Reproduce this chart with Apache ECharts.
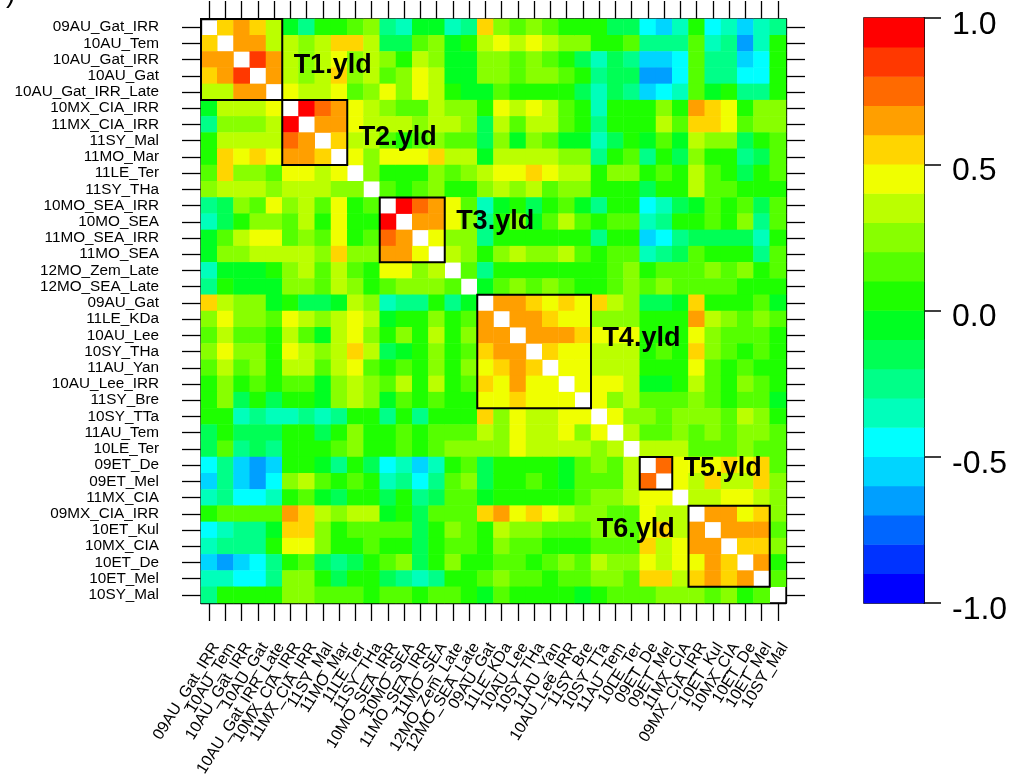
<!DOCTYPE html>
<html><head><meta charset="utf-8">
<script src="https://cdn.jsdelivr.net/npm/echarts@6/dist/echarts.min.js"></script>
<style>html,body{margin:0;padding:0;background:#fff}#chart{width:1017px;height:782px}</style>
</head><body><div id="chart"></div>
<script>
// ---------------- data ----------------
const varNames = ['09AU_Gat_IRR','10AU_Tem','10AU_Gat_IRR','10AU_Gat','10AU_Gat_IRR_Late',
 '10MX_CIA_IRR','11MX_CIA_IRR','11SY_Mal','11MO_Mar','11LE_Ter','11SY_THa',
 '10MO_SEA_IRR','10MO_SEA','11MO_SEA_IRR','11MO_SEA','12MO_Zem_Late','12MO_SEA_Late',
 '09AU_Gat','11LE_KDa','10AU_Lee','10SY_THa','11AU_Yan','10AU_Lee_IRR','11SY_Bre',
 '10SY_TTa','11AU_Tem','10LE_Ter','09ET_De','09ET_Mel','11MX_CIA',
 '09MX_CIA_IRR','10ET_Kul','10MX_CIA','10ET_De','10ET_Mel','10SY_Mal'];

// lower triangle of the correlation matrix (row i, columns 0..i-1); diagonal is blank
const corrLower = [
 [],
 [0.55],
 [0.65,0.65],
 [0.55,0.65,0.85],
 [0.35,0.35,0.65,0.65],
 [-0.05,0.35,0.35,0.35,0.45],
 [-0.25,0.25,0.25,0.25,0.35,0.95],
 [0.05,0.35,0.35,0.35,0.35,0.75,0.65],
 [0.05,0.55,0.45,0.55,0.45,0.65,0.65,0.55],
 [0.15,0.55,0.25,0.25,0.15,0.45,0.45,0.35,0.45],
 [0.25,0.35,0.35,0.35,0.25,0.35,0.35,0.35,0.25,0.25],
 [-0.25,-0.15,0.25,0.15,0.45,0.25,0.35,0.15,0.45,0.05,0.15],
 [-0.35,-0.15,0.05,0.25,0.25,0.15,0.35,0.05,0.45,0.05,0.05,0.95],
 [-0.05,0.15,0.35,0.45,0.45,0.15,0.25,0.15,0.45,0.05,0.15,0.75,0.65],
 [-0.05,0.25,0.25,0.35,0.35,0.35,0.35,0.25,0.55,0.25,0.25,0.65,0.65,0.45],
 [-0.35,-0.05,-0.05,-0.05,0.05,0.25,0.35,0.15,0.35,0.15,0.05,0.45,0.45,0.25,0.35],
 [-0.25,0.05,-0.05,-0.05,-0.05,0.25,0.25,0.15,0.35,0.25,0.05,0.15,0.25,0.25,0.25,0.15],
 [0.55,0.35,0.25,0.25,-0.05,0.05,-0.15,-0.15,-0.05,0.35,0.25,-0.35,-0.25,-0.25,0.05,-0.25,-0.05],
 [0.25,0.45,0.25,0.25,0.15,0.45,0.35,0.25,0.35,0.45,0.35,-0.05,0.05,0.05,0.25,0.05,0.15,0.65],
 [0.15,0.35,0.15,0.15,0.05,0.35,0.15,-0.05,0.35,0.45,0.25,0.05,0.25,0.05,0.35,0.05,0.25,0.65,0.65],
 [0.25,0.45,0.25,0.25,0.05,0.45,0.35,0.25,0.35,0.55,0.35,-0.15,-0.05,0.05,0.25,0.05,0.15,0.55,0.65,0.65],
 [0.15,0.35,0.15,0.25,0.05,0.35,0.35,0.15,0.35,0.45,0.15,0.05,0.15,0.05,0.25,0.05,0.25,0.45,0.55,0.65,0.55],
 [0.05,0.25,0.05,0.15,0.05,0.15,0.15,-0.05,0.25,0.35,0.25,0.15,0.35,0.05,0.35,0.05,0.15,0.55,0.45,0.65,0.45,0.45],
 [0.05,0.25,-0.15,0.05,-0.15,0.05,0.05,-0.05,0.25,0.35,0.25,-0.05,0.15,0.05,0.15,0.05,0.05,0.45,0.45,0.55,0.45,0.45,0.45],
 [0.05,0.05,-0.35,-0.25,-0.35,-0.35,-0.25,-0.35,-0.25,0.05,0.05,-0.25,0.05,-0.25,0.05,0.05,0.05,0.55,0.25,0.45,0.35,0.35,0.45,0.45],
 [-0.15,0.05,-0.15,-0.15,-0.15,0.05,0.05,-0.15,0.05,0.25,0.05,0.05,0.15,0.05,0.15,0.15,0.15,0.35,0.25,0.45,0.35,0.35,0.45,0.25,0.45],
 [-0.15,0.15,-0.25,-0.15,-0.25,0.05,0.05,0.05,0.15,0.25,0.05,0.05,0.15,0.05,0.15,0.25,0.25,0.25,0.25,0.45,0.35,0.35,0.35,0.35,0.25,0.35],
 [-0.45,-0.25,-0.55,-0.65,-0.55,0.05,0.05,-0.05,-0.25,0.05,-0.15,-0.45,-0.35,-0.55,-0.35,0.05,0.15,-0.15,0.05,0.05,0.05,0.05,-0.05,0.15,0.25,0.15,0.35],
 [-0.55,-0.25,-0.55,-0.65,-0.45,0.25,0.35,0.15,0.05,0.15,0.05,-0.35,-0.25,-0.45,-0.25,0.15,0.25,-0.15,0.05,0.05,0.15,0.05,-0.05,0.15,0.15,0.15,0.35,0.75],
 [-0.35,-0.25,-0.45,-0.45,-0.35,0.05,0.15,-0.05,-0.15,0.05,0.05,-0.15,0.05,-0.25,-0.15,0.15,0.15,-0.05,0.05,0.05,0.05,0.05,0.05,0.15,0.25,0.25,0.35,0.45,0.45],
 [0.05,0.15,0.15,0.15,0.15,0.65,0.55,0.35,0.25,0.35,0.35,-0.05,0.05,-0.15,0.15,0.15,0.15,0.55,0.65,0.45,0.55,0.45,0.35,0.25,0.25,0.15,0.15,0.45,0.35,0.35],
 [-0.45,-0.35,-0.25,-0.25,-0.05,0.55,0.55,0.25,0.05,0.15,0.15,0.15,0.15,-0.15,0.05,0.25,0.15,0.05,0.35,0.25,0.25,0.15,0.15,0.15,0.25,0.25,0.15,0.45,0.55,0.35,0.65],
 [-0.35,-0.25,-0.25,-0.25,0.05,0.45,0.45,0.25,0.05,0.05,0.15,0.05,0.05,-0.15,0.05,0.15,0.15,0.05,0.25,0.15,0.15,0.05,0.05,0.05,0.15,0.15,0.15,0.55,0.35,0.45,0.65,0.65],
 [-0.55,-0.65,-0.55,-0.45,-0.25,0.05,0.15,-0.15,-0.25,-0.15,0.05,0.15,0.25,-0.15,0.05,0.25,0.05,0.05,0.15,0.15,0.05,0.15,0.25,0.15,0.35,0.25,0.25,0.45,0.35,0.45,0.45,0.65,0.55],
 [-0.35,-0.35,-0.45,-0.45,-0.25,0.25,0.25,0.05,-0.15,0.05,0.05,-0.15,-0.25,-0.35,-0.25,0.05,0.05,0.15,0.25,0.15,0.15,0.05,0.15,0.15,0.25,0.25,0.15,0.55,0.55,0.35,0.55,0.65,0.55,0.65],
 [-0.25,0.05,0.05,0.05,0.05,0.25,0.25,0.15,0.15,0.15,0.05,0.15,0.15,0.05,0.15,0.15,0.05,-0.05,0.15,0.05,0.05,0.05,0.05,-0.05,0.05,0.15,0.15,0.15,0.25,0.25,0.25,0.15,0.25,0.05,0.15]
];

const blockNames = ['T1.yld','T2.yld','T3.yld','T4.yld','T5.yld','T6.yld'];
const blockStart = [0,5,11,17,27,30];
const blockEnd   = [4,8,14,23,28,34];

const colorBreaks = [-1.0,-0.9,-0.8,-0.7,-0.6,-0.5,-0.4,-0.3,-0.2,-0.1,0.0,0.1,0.2,0.3,0.4,0.5,0.6,0.7,0.8,0.9,1.0];
const colorPalette = ['#0000FF','#0033FF','#0066FF','#009FFF','#00D5FF','#00FFFF','#00FFBB','#00FF88','#00FF55','#00FF22',
                      '#1EFF00','#55FF00','#88FF00','#BBFF00','#F0FF00','#FFD500','#FF9F00','#FF6A00','#FF3800','#FF0000'];
const colorbarMids = [-0.95,-0.85,-0.75,-0.65,-0.55,-0.45,-0.35,-0.25,-0.15,-0.05,0.05,0.15,0.25,0.35,0.45,0.55,0.65,0.75,0.85,0.95];
const colorbarTicks = [-1.0,-0.5,0.0,0.5,1.0];

// ---------------- build ----------------
const heatData = [];
corrLower.forEach((row, i) => {
  row.forEach((v, j) => { heatData.push([j, i, v]); heatData.push([i, j, v]); });
});
const pieces = colorPalette.map((c, k) => k === colorPalette.length - 1
  ? {gte: colorBreaks[k], lte: colorBreaks[k + 1], color: c}
  : {gte: colorBreaks[k], lt: colorBreaks[k + 1], color: c});
const cbData = colorbarMids.map((v, k) => [0, k, v]);
const blockData = blockNames.map((n, k) => [blockStart[k], blockEnd[k], k]);

const FONT = 'Liberation Sans, Arial, sans-serif';
// label layout for the block captions (cell units)
const capSide = ['right','right','right','right','right','left'];
const capDy = [0.4, 0.28, -0.5, -0.83, -0.3, -1.0];

const chart = echarts.init(document.getElementById('chart'), null, {renderer: 'canvas'});
const blackLine = {lineStyle: {color: '#000', width: 1.3}};
chart.setOption({
  animation: false,
  backgroundColor: '#fff',
  textStyle: {fontFamily: FONT},
  graphic: [{type: 'text', left: 6, top: -20, style: {text: ')', font: '28px ' + FONT, fill: '#000'}}],
  grid: [
    {left: 201, top: 19, width: 585, height: 584, show: true, borderColor: '#000', borderWidth: 1.3, backgroundColor: '#fff'},
    {left: 864, top: 18, width: 60, height: 585, show: true, borderColor: '#000', borderWidth: 1.5}
  ],
  xAxis: [
    {type: 'category', gridIndex: 0, data: varNames, position: 'bottom',
     axisLine: {show: true, ...blackLine},
     axisTick: {show: true, alignWithLabel: true, interval: 0, length: 18, inside: false, ...blackLine},
     axisLabel: {interval: 0, rotate: 58, fontSize: 16, color: '#000', margin: 37, verticalAlign: 'top', fontFamily: FONT},
     splitLine: {show: false}},
    {type: 'category', gridIndex: 0, data: varNames, position: 'top',
     axisLine: {show: true, ...blackLine},
     axisTick: {show: true, alignWithLabel: true, interval: 0, length: 18, ...blackLine},
     axisLabel: {show: false}, splitLine: {show: false}},
    {type: 'category', gridIndex: 1, data: ['bar'], show: false}
  ],
  yAxis: [
    {type: 'category', gridIndex: 0, data: varNames, inverse: true, position: 'left',
     axisLine: {show: true, ...blackLine},
     axisTick: {show: true, alignWithLabel: true, interval: 0, length: 19, ...blackLine},
     axisLabel: {interval: 0, fontSize: 15.3, color: '#000', margin: 42, fontFamily: FONT},
     splitLine: {show: false}},
    {type: 'category', gridIndex: 0, data: varNames, inverse: true, position: 'right',
     axisLine: {show: true, ...blackLine},
     axisTick: {show: true, alignWithLabel: true, interval: 0, length: 19, ...blackLine},
     axisLabel: {show: false}, splitLine: {show: false}},
    {type: 'category', gridIndex: 1, data: colorbarMids.map(String), show: false},
    {type: 'value', gridIndex: 1, position: 'right',
     min: colorbarTicks[0], max: colorbarTicks[colorbarTicks.length - 1], interval: colorbarTicks[1] - colorbarTicks[0],
     axisLine: {show: true, lineStyle: {color: '#000', width: 1.5}},
     axisTick: {show: true, length: 17, lineStyle: {color: '#000', width: 1.5}},
     axisLabel: {fontSize: 32, color: '#000', margin: 28, fontFamily: FONT, verticalAlign: 'top', lineHeight: 14,
                 formatter: v => v.toFixed(1)},
     splitLine: {show: false}}
  ],
  visualMap: {type: 'piecewise', show: false, seriesIndex: [0, 1], dimension: 2, pieces: pieces},
  series: [
    {type: 'heatmap', xAxisIndex: 0, yAxisIndex: 0, data: heatData, progressive: 0,
     itemStyle: {borderWidth: 0}, emphasis: {disabled: true}},
    {type: 'heatmap', xAxisIndex: 2, yAxisIndex: 2, data: cbData, progressive: 0, emphasis: {disabled: true}},
    {type: 'custom', xAxisIndex: 0, yAxisIndex: 0, data: blockData, z: 10,
     encode: {x: 0, y: 1},
     renderItem: (params, api) => {
       const s = api.value(0), e = api.value(1), k = api.value(2);
       const p = api.coord([s, s]);
       const sz = api.size([1, 1]);
       const n = e - s + 1;
       const x = p[0] - sz[0] / 2, y = p[1] - sz[1] / 2;
       const midY = y + n * sz[1] / 2 + capDy[k] * sz[1];
       const right = capSide[k] === 'right';
       return {type: 'group', children: [
         {type: 'rect', shape: {x: x, y: y, width: n * sz[0], height: n * sz[1]},
          style: {fill: null, stroke: '#000', lineWidth: 2}},
         {type: 'text', x: right ? x + n * sz[0] + 0.7 * sz[0] : x - 0.85 * sz[0], y: midY,
          style: {text: blockNames[k], font: 'bold 27px ' + FONT, fill: '#000',
                  align: right ? 'left' : 'right', verticalAlign: 'middle'}}
       ]};
     }}
  ]
});
</script></body></html>
